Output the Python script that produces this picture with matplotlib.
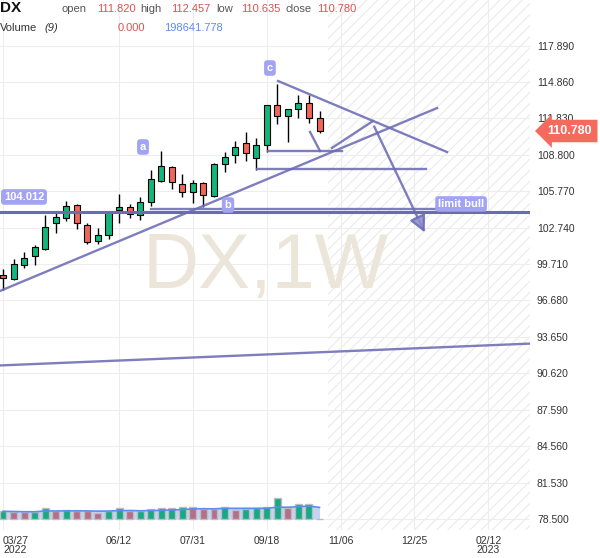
import numpy as np
import pandas as pd
import matplotlib
matplotlib.use('Agg')
import matplotlib.pyplot as plt
import matplotlib.transforms as mtransforms
from matplotlib.patches import Rectangle, FancyArrowPatch

plt.rcParams['font.family'] = ['Liberation Sans', 'DejaVu Sans']
plt.rcParams['hatch.color'] = '#ebebeb'
plt.rcParams['hatch.linewidth'] = 0.8

# weekly DX candles, week 0 = 2022-03-27
opens  = [98.80, 98.47, 99.63, 100.38, 100.96, 103.13, 103.54, 104.62, 102.96, 101.63,
          102.13, 104.21, 104.46, 103.79, 104.87, 106.62, 107.78, 106.37, 105.70, 106.45,
          105.41, 108.03, 108.78, 109.78, 108.53, 109.61, 112.94, 112.03, 112.61, 113.11,
          111.820]
highs  = [99.30, 100.13, 100.71, 101.30, 103.79, 103.96, 104.96, 104.71, 103.13, 102.71,
          104.13, 105.54, 104.71, 105.29, 107.54, 109.12, 107.87, 107.20, 106.70, 106.54,
          108.12, 109.03, 109.95, 110.70, 110.20, 112.94, 114.69, 112.61, 113.77, 113.77,
          112.457]
lows   = [97.55, 98.38, 99.38, 99.63, 100.88, 102.29, 103.29, 102.63, 101.38, 101.38,
          101.79, 103.13, 103.54, 103.38, 104.54, 106.54, 105.95, 105.29, 104.79, 104.46,
          105.29, 107.37, 108.12, 108.28, 107.54, 109.03, 111.36, 109.86, 111.86, 111.45,
          110.635]
closes = [98.55, 99.71, 100.21, 101.13, 102.79, 103.63, 104.54, 103.13, 101.54, 102.13,
          104.08, 104.46, 103.87, 104.87, 106.79, 107.87, 106.54, 105.70, 106.45, 105.45,
          108.03, 108.62, 109.45, 108.95, 109.61, 112.94, 112.03, 112.61, 113.11, 111.86,
          110.780]
volumes = [132000, 125000, 118000, 122000, 188000, 142000, 146000, 140000, 132000, 98000,
           142000, 188000, 132000, 142000, 176000, 180000, 194000, 200000, 197000, 176000,
           173000, 200000, 150000, 175000, 182000, 200000, 360000, 195000, 262000, 265000,
           0]

ytick_vals = [78.500, 81.530, 84.560, 87.590, 90.620, 93.650, 96.680, 99.710,
              102.740, 105.770, 108.800, 111.830, 114.860, 117.890]
xtick_weeks = [0, 11, 18, 25, 32, 39, 46]
xtick_labels = ['03/27\n2022', '06/12', '07/31', '09/18', '11/06', '12/25', '02/12\n2023']

# hand drawn lines: (week0, price0, week1, price1)
trend_lines = [
    (-2.0, 96.84, 41.14, 112.69),
    (-1.0, 91.25, 51.0, 93.13),
    (14.0, 104.25, 43.0, 104.25),
    (26.07, 114.94, 42.09, 109.03),
    (24.08, 107.62, 40.10, 107.62),
    (25.12, 109.11, 32.13, 109.11),
    (29.10, 110.70, 30.05, 109.11),
    (31.18, 109.37, 35.07, 111.61),
]
arrow_line = (35.07, 111.36, 40.09, 102.13)
limit_level = 104.012
wave_tags = [('a', 13.27, 109.45), ('c', 25.3, 116.02), ('b', 21.33, 104.62)]
future_start = 30.8

weeks = np.arange(len(opens))
o = np.array(opens); c = np.array(closes)

fig = plt.figure(figsize=(6, 5.58), dpi=100)
ax = fig.add_axes([0, 28/558, 530/600, 530/558])
ax.set_xlim(-0.284, 49.95)
ax.set_ylim(77.585, 121.678)
for s in ax.spines.values():
    s.set_visible(False)

ax.yaxis.tick_right()
ax.set_yticks(ytick_vals)
ax.set_yticklabels(['%.3f' % v for v in ytick_vals])
ax.tick_params(axis='y', length=0, pad=5, labelsize=7.5, labelcolor='#333333')
ax.set_xticks(xtick_weeks)
ax.set_xticklabels(xtick_labels)
ax.tick_params(axis='x', length=0, pad=4, labelsize=7.5, labelcolor='#333333')
for lab in ax.get_xticklabels():
    lab.set_linespacing(0.9)
ax.get_xticklabels()[0].set_horizontalalignment('left')
ax.grid(True, color='#ededed', lw=0.8)
ax.set_axisbelow(True)

# future (hatched) area
ax.add_patch(Rectangle((future_start, 70), 30, 60, facecolor='none', edgecolor='#ebebeb',
                       lw=0, hatch='///', zorder=0.5))

ax.text(24.93, 97.72, 'DX,1W', fontsize=56, color='#ece6da', ha='center', va='baseline', zorder=1)

# candles
up = c >= o
ax.vlines(weeks, lows, highs, color='black', lw=1, zorder=3)
ax.bar(weeks, np.maximum(np.abs(c - o), 0.05), bottom=np.minimum(o, c), width=0.57,
       color=np.where(up, '#13b67d', '#f0675a'), edgecolor='black', lw=0.8, zorder=4)

# drawings
lc = '#6c6cb6'
ax.axhline(limit_level, color='#6b6bb0', lw=2.2, zorder=5)
for x0, y0, x1, y1 in trend_lines:
    ax.plot([x0, x1], [y0, y1], color=lc, lw=1.7, alpha=0.88, zorder=5)
ax.add_patch(FancyArrowPatch(arrow_line[:2], arrow_line[2:],
                             arrowstyle='-|>,head_length=1.0,head_width=0.5', mutation_scale=10,
                             color=lc, lw=1.7, alpha=0.88, fc='#8e8ed0', zorder=5))

def tag(x, y, s, ha='center'):
    ax.text(x, y, s, ha=ha, va='center', fontsize=8, fontweight='bold', color='white', zorder=6,
            bbox=dict(boxstyle='round,pad=0.25,rounding_size=0.3', fc='#a3a3f3', ec='none'))

for s, x, y in wave_tags:
    tag(x, y, s)
tag(1.99, 105.29, '%.3f' % limit_level)
tag(41.23, 104.71, 'limit bull', ha='left')

# last price label
trans = mtransforms.blended_transform_factory(ax.transAxes, ax.transData)
ax.text(570/530, closes[-1], '%.3f' % closes[-1], transform=trans, ha='center', va='center',
        fontsize=9, fontweight='bold', color='white', clip_on=False, zorder=7,
        bbox=dict(boxstyle='larrow,pad=0.42', fc='#f36b5c', ec='none'))

# volume pane
axv = fig.add_axes(ax.get_position(), sharex=ax)
axv.set_facecolor('none')
axv.axis('off')
vol = np.array(volumes, dtype=float)
ma9 = pd.Series(vol).rolling(9, min_periods=1).mean()
axv.fill_between(weeks, 0, ma9, color='#bdd0f6', alpha=0.9, lw=0)
axv.plot(weeks, ma9, color='#5b8def', lw=1.2)
prev = np.concatenate([[0], vol[:-1]])
vcol = np.where(vol == 0, '#bdbdbd', np.where(vol > prev, '#15a985', '#b56d88'))
axv.bar(weeks, vol, width=0.66, color=vcol, edgecolor='#bdbdbd', lw=1)
axv.set_ylim(-11 * 17124, 519 * 17124)

# header
def htext(x, y, s, **kw):
    fig.text(x / 600, 1 - y / 558, s, va='center', **kw)

htext(0, 8, 'DX', fontsize=11, fontweight='bold', color='#111111')
red = '#d9534f'
for x, s, col in [(62, 'open', '#555555'), (97, '111.820', red), (140, 'high', '#555555'),
                  (171, '112.457', red), (216, 'low', '#555555'), (241, '110.635', red),
                  (286, 'close', '#555555'), (317, '110.780', red)]:
    htext(x, 9, s, fontsize=8, color=col)
htext(0, 28, 'Volume', fontsize=8, color='#333333')
htext(44, 28, '(9)', fontsize=8, color='#333333', style='italic')
htext(118, 28, '0.000', fontsize=8, color=red)
htext(164, 28, '198641.778', fontsize=8, color='#5b8def')

fig.savefig('out.png', dpi=100)
